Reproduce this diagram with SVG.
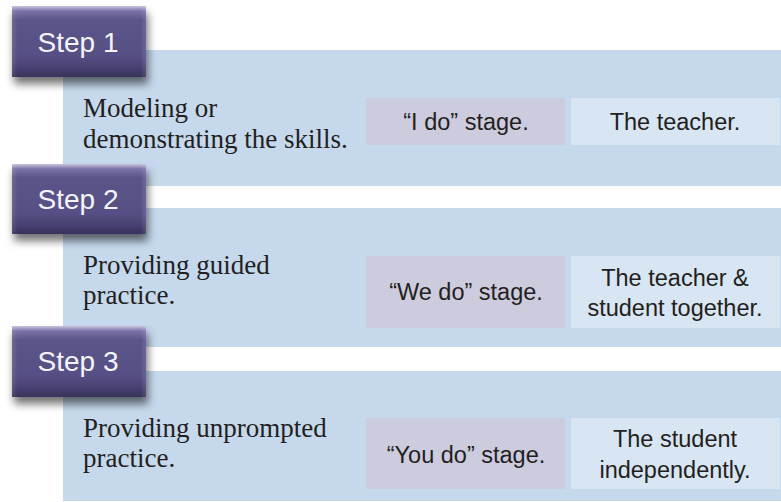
<svg xmlns="http://www.w3.org/2000/svg" width="781" height="502" viewBox="0 0 781 502">
  <defs>
    <linearGradient id="stepGrad" x1="0" y1="0" x2="0" y2="1">
      <stop offset="0" stop-color="#c9c4de"/>
      <stop offset="0.07" stop-color="#7a73a6"/>
      <stop offset="0.2" stop-color="#5b5489"/>
      <stop offset="0.7" stop-color="#575085"/>
      <stop offset="0.88" stop-color="#474070"/>
      <stop offset="1" stop-color="#37315a"/>
    </linearGradient>
    <linearGradient id="edgeGrad" x1="0" y1="0" x2="1" y2="0">
      <stop offset="0" stop-color="#ffffff" stop-opacity="0.12"/>
      <stop offset="0.04" stop-color="#ffffff" stop-opacity="0"/>
      <stop offset="0.96" stop-color="#ffffff" stop-opacity="0"/>
      <stop offset="1" stop-color="#ffffff" stop-opacity="0.12"/>
    </linearGradient>
    <filter id="shadow" x="-20%" y="-20%" width="150%" height="160%">
      <feDropShadow dx="2" dy="7" stdDeviation="4" flood-color="#000000" flood-opacity="0.55"/>
    </filter>
  </defs>
  <style>
    .panel { fill: #c5d8ec; }
    .stage { fill: #cdcbde; }
    .who { fill: #d8e5f2; }
    .serif { font-family: "Liberation Serif", "Times New Roman", serif; font-size: 27px; fill: #231f20; }
    .sans { font-family: "Liberation Sans", Arial, sans-serif; font-size: 23.5px; fill: #231f20; text-anchor: middle; }
    .steplabel { font-family: "Liberation Sans", Arial, sans-serif; font-size: 28px; fill: #f4f2fa; text-anchor: middle; }
    .stepbox { fill: url(#stepGrad); }
  </style>
  <rect width="781" height="502" fill="#ffffff"/>

  <g id="panel1">
    <rect class="panel" x="63" y="50" width="718" height="136"/>
    <text class="serif" x="83" y="117">Modeling or</text>
    <text class="serif" x="83" y="148">demonstrating the skills.</text>
    <rect class="stage" x="366" y="98" width="199" height="47"/>
    <text class="sans" x="466" y="130">“I do” stage.</text>
    <rect class="who" x="571" y="98" width="209" height="47"/>
    <text class="sans" x="675" y="130">The teacher.</text>
  </g>

  <g id="panel2">
    <rect class="panel" x="63" y="208" width="718" height="139"/>
    <text class="serif" x="83" y="274">Providing guided</text>
    <text class="serif" x="83" y="304">practice.</text>
    <rect class="stage" x="366" y="256" width="199" height="72"/>
    <text class="sans" x="466" y="300">“We do” stage.</text>
    <rect class="who" x="571" y="256" width="209" height="72"/>
    <text class="sans" x="675" y="286">The teacher &amp;</text>
    <text class="sans" x="675" y="316">student together.</text>
  </g>

  <g id="panel3">
    <rect class="panel" x="63" y="371" width="718" height="130"/>
    <text class="serif" x="83" y="437">Providing unprompted</text>
    <text class="serif" x="83" y="467">practice.</text>
    <rect class="stage" x="366" y="418" width="199" height="71"/>
    <text class="sans" x="466" y="463">“You do” stage.</text>
    <rect class="who" x="571" y="418" width="209" height="71"/>
    <text class="sans" x="675" y="447">The student</text>
    <text class="sans" x="675" y="478">independently.</text>
  </g>

  <g id="step1">
    <rect class="stepbox" x="12" y="6" width="134" height="71" filter="url(#shadow)"/>
    <rect x="12" y="6" width="134" height="71" fill="url(#edgeGrad)"/>
    <text class="steplabel" x="78" y="52">Step 1</text>
  </g>

  <g id="step2">
    <rect class="stepbox" x="12" y="164" width="134" height="70" filter="url(#shadow)"/>
    <rect x="12" y="164" width="134" height="70" fill="url(#edgeGrad)"/>
    <text class="steplabel" x="78" y="209">Step 2</text>
  </g>

  <g id="step3">
    <rect class="stepbox" x="12" y="326" width="134" height="71" filter="url(#shadow)"/>
    <rect x="12" y="326" width="134" height="71" fill="url(#edgeGrad)"/>
    <text class="steplabel" x="78" y="371">Step 3</text>
  </g>

  <g id="connectors"/>
</svg>
